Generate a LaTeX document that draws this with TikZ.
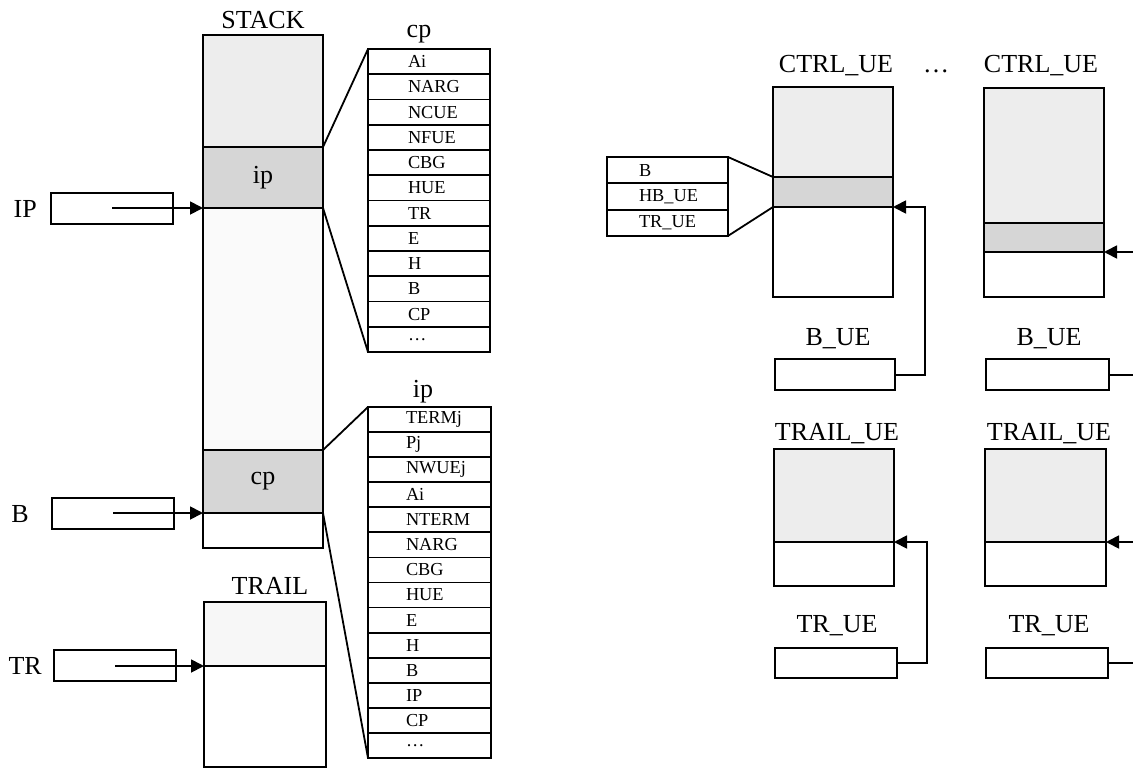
\documentclass[tikz,border=0pt]{standalone}
\usepackage{fontspec}
\setmainfont{Liberation Serif}
\usetikzlibrary{arrows.meta,positioning}

\tikzset{
  lbl/.style={font=\fontsize{26}{30}\selectfont, inner sep=0pt},
  seg/.style={draw, line width=2.2pt, minimum width=120pt, inner sep=0pt, outer sep=0pt,
    anchor=north west, font=\fontsize{26}{30}\selectfont},
  light/.style={fill=gray!14},
  dark/.style={fill=gray!32},
  reg/.style={draw, line width=2.2pt, minimum width=122pt, minimum height=31pt, inner sep=0pt, anchor=north west},
  cell/.style={draw, line width=1.8pt, inner sep=0pt, outer sep=0pt, anchor=north west,
    font=\fontsize{18.3}{20}\selectfont},
  ptr/.style={-{Triangle[length=13pt,width=13pt]}, line width=1.8pt},
  fan/.style={line width=1.8pt},
}

\begin{document}
\begin{tikzpicture}[x=1pt,y=-1pt]
  \useasboundingbox (0,0) rectangle (1133,769);
  \clip (0,0) rectangle (1133,769);

  % stack
  \node[lbl, anchor=base] (stacklbl) at (263,28) {STACK};
  \node[seg, light, minimum height=112pt] (stktop) at (203,35) {};
  \node[seg, dark, minimum height=61pt, below=0pt of stktop] (ipband) {ip};
  \node[seg, fill=gray!4, minimum height=242pt, below=0pt of ipband] (stkmid) {};
  \node[seg, dark, minimum height=63pt, below=0pt of stkmid] (cpband) {cp};
  \node[seg, minimum height=35pt, below=0pt of cpband] (stkbot) {};

  \node[reg] (IPreg) at (50,192) {};
  \node[lbl, left=13pt of IPreg] (IPlbl) {IP};
  \draw[ptr] (IPreg.center |- ipband.south west) -- (ipband.south west);
  \node[reg] (Breg) at (51,497) {};
  \node[lbl, left=22pt of Breg] (Blbl) {B};
  \draw[ptr] (Breg.center |- cpband.south west) -- (cpband.south west);

  % frame of cp
  \node[lbl, anchor=base] (cplbl) at (419,37) {cp};
  \foreach \txt [count=\i] in {Ai,NARG,NCUE,NFUE,CBG,HUE,TR,E,H,B,CP,\ldots}
    \node[cell, minimum height=25.25pt] (cp\i) at (368,{49+25.25*(\i-1)})
      {\makebox[122pt][l]{\hspace{40pt}\txt}};
  \draw[fan] (ipband.north east) -- (cp1.north west);
  \draw[fan] (ipband.south east) -- (cp12.south west);

  % frame of ip
  \node[lbl, anchor=base] (iplbl) at (423,397) {ip};
  \foreach \txt [count=\i] in {TERMj,Pj,NWUEj,Ai,NTERM,NARG,CBG,HUE,E,H,B,IP,CP,\ldots}
    \node[cell, minimum height=25.07pt] (ip\i) at (368,{407+25.07*(\i-1)})
      {\makebox[123pt][l]{\hspace{38pt}\txt}};
  \draw[fan] (cpband.north east) -- (ip1.north west);
  \draw[fan] (cpband.south east) -- (ip14.south west);

  % trail
  \node[lbl, anchor=base] (traillbl) at (270,594) {TRAIL};
  \node[seg, fill=gray!6, minimum width=122pt, minimum height=64pt] (trtop) at (204,602) {};
  \node[seg, minimum width=122pt, minimum height=101pt, below=0pt of trtop] (trbot) {};
  \node[reg] (TRreg) at (53,649) {};
  \node[lbl, left=11pt of TRreg] (TRlbl) {TR};
  \draw[ptr] (TRreg.center |- trtop.south west) -- (trtop.south west);

  % ctrl_ue
  \node[lbl, anchor=base] (ctrlAlbl) at (836,72) {CTRL\_UE};
  \node[lbl, anchor=base] (dotslbl) at (936,72) {\ldots};
  \node[lbl, anchor=base] (ctrlBlbl) at (1041,72) {CTRL\_UE};
  \node[seg, light, minimum height=90pt] (ctrlAtop) at (773,87) {};
  \node[seg, dark, minimum height=30pt, below=0pt of ctrlAtop] (hbA) {};
  \node[seg, minimum height=90pt, below=0pt of hbA] (ctrlAbot) {};
  \node[seg, light, minimum height=135pt] (ctrlBtop) at (984,88) {};
  \node[seg, dark, minimum height=29pt, below=0pt of ctrlBtop] (hbB) {};
  \node[seg, minimum height=45pt, below=0pt of hbB] (ctrlBbot) {};

  \foreach \txt [count=\i] in {B,HB\_UE,TR\_UE}
    \node[cell, minimum height=26.3pt] (ue\i) at (607,{157+26.3*(\i-1)})
      {\makebox[121pt][l]{\hspace{32pt}\txt}};
  \draw[fan] (ue1.north east) -- (hbA.north west);
  \draw[fan] (ue3.south east) -- (hbA.south west);

  % b_ue
  \node[lbl, anchor=base] (bueAlbl) at (838,345) {B\_UE};
  \node[lbl, anchor=base] (bueBlbl) at (1049,345) {B\_UE};
  \node[reg, minimum width=120pt] (bueA) at (774,358) {};
  \node[reg, minimum width=123pt] (bueB) at (985,358) {};
  \draw[ptr] (bueA.east) -- ++(29,0) |- (hbA.south east);
  \draw[ptr] (bueB.east) -- ++(40,0) |- (hbB.south east);

  % trail_ue
  \node[lbl, anchor=base] (tueAlbl) at (837,440) {TRAIL\_UE};
  \node[lbl, anchor=base] (tueBlbl) at (1049,440) {TRAIL\_UE};
  \node[seg, light, minimum height=93pt] (tueAtop) at (774,449) {};
  \node[seg, minimum height=44pt, below=0pt of tueAtop] (tueAbot) {};
  \node[seg, light, minimum width=121pt, minimum height=93pt] (tueBtop) at (985,449) {};
  \node[seg, minimum width=121pt, minimum height=44pt, below=0pt of tueBtop] (tueBbot) {};

  % tr_ue
  \node[lbl, anchor=base] (trueAlbl) at (837,632) {TR\_UE};
  \node[lbl, anchor=base] (trueBlbl) at (1049,632) {TR\_UE};
  \node[reg, minimum width=122pt, minimum height=30pt] (trueA) at (774,647) {};
  \node[reg, minimum width=122pt, minimum height=30pt] (trueB) at (985,647) {};
  \draw[ptr] (trueA.east) -- ++(29,0) |- (tueAtop.south east);
  \draw[ptr] (trueB.east) -- ++(40,0) |- (tueBtop.south east);
\end{tikzpicture}
\end{document}
